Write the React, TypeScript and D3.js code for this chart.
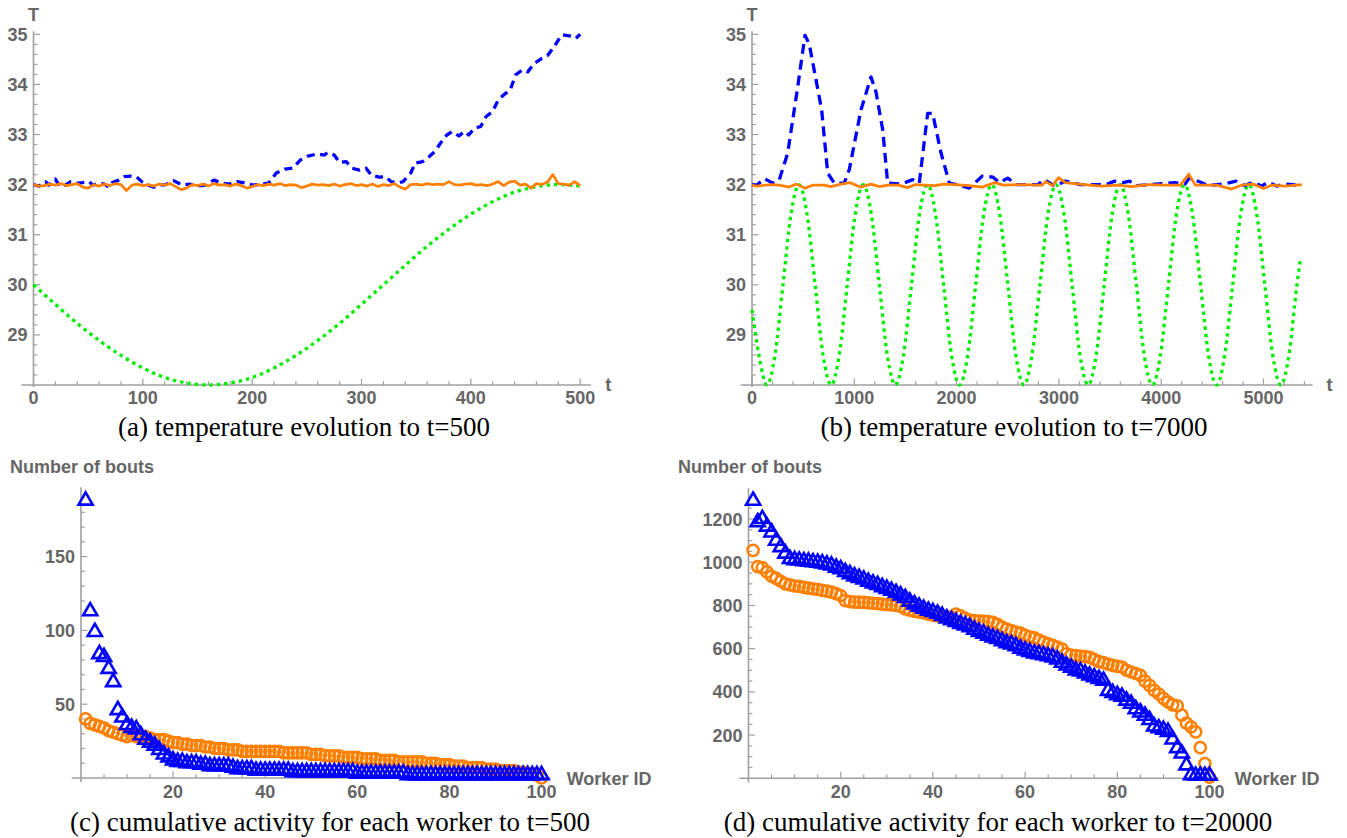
import React from 'react';
import * as d3 from 'd3';

const W = 1347;
const H = 838;

// ---------- Panel (a): temperature evolution to t=500 ----------
const aBlueT = [0,5,11,14,20,24,29,34,40,45,51,54,60,65,69,72,78,83,89,94,99,105,110,116,121,128,136,143,150,157,165,172,179,186,194,201,208,215,222,230,237,244,251,259,266,269,275,280,286,291,298,304,309,316,322,327,333,338,345,349,356,362,367,372,378,383,389,394,398,403,409,414,420,425,430,436,441,447,452,458,465,470,476,483,490,496,500];
const aBlueV = [32.0,31.97,32.06,31.99,32.11,31.96,31.99,32.06,32.03,32.04,32.06,31.99,32.03,32.01,31.95,32.04,32.09,32.16,32.17,32.16,32.06,31.99,31.95,31.99,32.0,32.08,31.99,32.01,31.97,31.99,32.09,32.03,32.01,32.06,32.03,31.99,32.01,32.03,32.23,32.31,32.33,32.49,32.57,32.61,32.59,32.64,32.59,32.44,32.46,32.33,32.29,32.33,32.19,32.15,32.16,32.06,32.03,32.06,32.23,32.43,32.46,32.56,32.66,32.82,32.99,33.06,32.97,33.06,32.99,33.12,33.16,33.36,33.46,33.69,33.79,33.89,34.19,34.29,34.25,34.42,34.52,34.57,34.75,34.99,34.97,34.92,35.0];
const aOrangeT = d3.range(0, 501, 5);
const aOrangeV = [
  32.00,31.97,31.98,32.01,31.99,32.02,31.98,32.00,32.02,31.95,
  31.93,32.00,31.97,32.01,31.98,32.02,32.00,31.88,31.99,32.01,
  31.98,32.00,31.97,32.01,31.99,32.02,31.96,31.90,31.93,32.00,
  31.98,32.01,31.97,32.02,31.99,32.00,31.97,32.01,31.98,31.93,
  31.96,32.00,31.98,32.01,31.99,32.02,31.98,32.00,31.99,31.94,
  31.97,32.01,31.99,32.00,31.98,32.01,31.97,32.00,32.02,31.98,
  32.00,31.97,32.01,31.96,32.00,31.98,32.02,31.95,31.91,32.00,
  32.01,31.99,32.02,32.00,32.01,32.00,32.06,32.00,31.99,32.01,
  32.02,31.99,32.00,31.98,32.01,32.06,31.98,32.05,32.07,31.99,
  32.01,31.93,32.02,32.00,32.05,32.20,32.02,32.01,31.99,32.06,
  31.98];
const aGreenT = d3.range(0, 501, 20);
const aGreenV = [30.0,29.61,29.23,28.89,28.59,28.34,28.15,28.04,28.0,28.04,28.15,28.34,28.59,28.89,29.23,29.61,30.0,30.39,30.77,31.11,31.41,31.66,31.85,31.96,32.0,31.97];

// ---------- Panel (b): temperature evolution to t=7000 ----------
const bBlueT = [0,49,120,202,267,349,447,518,560,626,681,740,804,902,951,1065,1163,1212,1278,1326,1457,1571,1635,1717,1766,1848,1929,2000,2125,2250,2354,2417,2500,2584,2793,2856,2959,3064,3210,3458,3545,3627,3690,3752,4004,4128,4233,4275,4356,4463,4629,4733,4816,4900,4981,5046,5128,5213,5293,5371];
const bBlueV = [32.0,31.99,32.12,32.03,32.1,32.63,33.95,34.98,34.8,34.09,33.49,32.23,32.03,32.03,32.3,33.49,34.15,33.85,33.09,32.03,32.01,32.1,32.03,33.42,33.42,32.63,32.03,32.0,31.93,32.17,32.15,32.04,32.13,32.0,32.0,32.1,31.97,32.07,32.0,32.0,32.07,32.04,32.07,31.98,32.02,32.04,32.01,32.13,32.07,31.98,32.02,32.07,31.98,32.05,31.97,32.05,31.97,32.01,32.0,31.96];
const bOrangeT = [0,38,183,267,363,434,517,600,705,767,872,955,1059,1163,1247,1330,1434,1518,1601,1685,1789,1872,1977,2123,2248,2373,2456,2623,2831,2873,2936,2998,3061,3248,3415,3582,3707,3874,4041,4187,4270,4333,4541,4687,4791,4896,5000,5083,5208,5375];
const bOrangeV = [31.99,31.97,32.0,31.99,31.95,32.01,31.93,31.99,31.99,31.96,32.01,32.04,31.95,32.01,31.96,31.99,31.99,31.94,32.0,31.99,31.98,32.01,32.0,31.98,31.95,32.04,31.99,32.0,31.99,32.06,31.98,32.14,32.04,32.0,31.97,31.99,31.96,32.0,31.99,31.99,32.21,31.99,31.99,31.91,31.99,32.01,31.92,31.99,31.97,32.0];
const bGreenT = [0,68,146,224,303,381,460,538,617,695,774,852,931,1009,1088,1166,1245,1323,1402,1480,1559,1637,1716,1794,1873,1951,2030,2108,2187,2265,2344,2422,2501,2579,2658,2736,2815,2893,2972,3050,3129,3207,3286,3364,3443,3521,3600,3678,3757,3835,3914,3992,4071,4149,4228,4306,4385,4463,4542,4620,4699,4777,4856,4934,5013,5091,5170,5248,5327,5360];
const bGreenV = [
  29.5,28.59,28,28.59,30,31.41,32,31.41,30,28.59,
  28,28.59,30,31.41,32,31.41,30,28.59,28,28.59,
  30,31.41,32,31.41,30,28.59,28,28.59,30,31.41,
  32,31.41,30,28.59,28,28.59,30,31.41,32,31.41,
  30,28.59,28,28.59,30,31.41,32,31.41,30,28.59,
  28,28.59,30,31.41,32,31.41,30,28.59,28,28.59,
  30,31.41,32,31.41,30,28.59,28,28.59,30,30.5];

// ---------- Panel (c): cumulative activity to t=500 ----------
const workerIds = d3.range(1, 101);
const cBlue = [
  188,113,99,84,82,74,65,46,41,36,
  34,33,29,26,24,22,19,16,14,12,
  11,11,10,10,10,9,9,8,8,8,
  8,8,7,6,6,6,6,5,5,5,
  5,5,5,5,5,4,4,4,4,4,
  4,4,4,4,4,4,4,4,4,3,
  3,3,3,3,3,3,3,3,3,3,
  2,2,2,2,2,2,2,2,2,2,
  2,2,2,2,2,2,2,2,2,2,
  2,2,2,2,2,2,2,2,2,2];
const cOrange = [
  40,37,36,35,34,32,31,30,29,28,
  29,28,28,28,27,26,26,26,25,24,
  24,23,23,22,22,22,21,21,20,20,
  20,19,19,19,18,18,18,18,18,18,
  18,18,18,17,17,17,17,17,17,16,
  16,16,15,15,15,15,14,14,14,14,
  13,13,13,13,12,12,12,12,11,11,
  11,11,11,11,10,10,10,9,9,9,
  8,8,8,7,7,7,7,6,6,6,
  5,5,5,5,4,4,3,3,2,0];

// ---------- Panel (d): cumulative activity to t=20000 ----------
const dBlue = [
  1285,1185,1200,1165,1138,1100,1070,1040,1015,1010,
  1008,1005,1003,1000,998,995,990,985,975,968,
  955,945,935,928,920,910,902,895,885,877,
  868,858,847,835,818,805,795,785,776,770,
  762,752,740,732,724,715,708,700,688,678,
  670,660,652,645,635,625,620,612,600,592,
  585,578,575,570,565,560,550,535,522,512,
  500,495,485,476,468,460,452,405,395,385,
  378,360,345,320,305,290,270,240,232,225,
  215,180,140,115,60,15,12,12,12,12];
const dOrange = [
  1055,980,975,955,935,925,912,900,895,890,
  888,884,880,877,874,870,866,862,855,846,
  822,818,815,815,814,812,810,808,806,804,
  802,800,795,784,778,772,769,765,760,755,
  752,750,748,746,760,752,740,732,730,728,
  727,725,722,712,700,690,684,677,672,662,
  655,650,640,630,622,615,607,598,576,570,
  568,565,563,560,550,540,535,528,523,518,
  515,500,492,485,476,450,430,407,390,370,
  353,340,335,292,255,238,215,142,68,5];

// ---------- Ticks and labels ----------
const tempMajor = [29, 30, 31, 32, 33, 34, 35];
const aXMajor = [0, 100, 200, 300, 400, 500];
const bXMajor = [0, 1000, 2000, 3000, 4000, 5000];
const workerMajor = [20, 40, 60, 80, 100];
const cYMajor = [50, 100, 150];
const dYMajor = [200, 400, 600, 800, 1000, 1200];
const captions = [
  '(a) temperature evolution to t=500',
  '(b) temperature evolution to t=7000',
  '(c) cumulative activity for each worker to t=500',
  '(d) cumulative activity for each worker to t=20000',
];

const BLUE = '#0000ff';
const ORANGE = '#ff8000';
const GREEN = '#00ee00';
const AXIS = '#a0a0a0';
const LABEL = '#666666';
const SANS = "'Liberation Sans', Arial, Helvetica, sans-serif";
const SERIF = "'Liberation Serif', 'Times New Roman', serif";
const FS = 18;

const minorOf = (from: number, to: number, step: number, major: number[]) =>
  d3.range(from, to + step / 2, step).filter(v => !major.some(m => Math.abs(m - v) < step / 10));

type AxesProps = {
  sx: d3.ScaleLinear<number, number>;
  sy: d3.ScaleLinear<number, number>;
  ox: number; oy: number;
  xFrom: number; xTo: number; yTo: number; yBelow: number;
  xMaj: number[]; xMin: number[]; yMaj: number[]; yMin: number[];
  xLabDy: number;
};

function Axes(p: AxesProps) {
  const X0 = p.sx(p.ox);
  const Y0 = p.sy(p.oy);
  return (
    <g>
      <line x1={p.sx(p.xFrom)} x2={p.sx(p.xTo)} y1={Y0} y2={Y0} stroke={AXIS} strokeWidth={1.6} />
      <line x1={X0} x2={X0} y1={Y0 + p.yBelow} y2={p.sy(p.yTo)} stroke={AXIS} strokeWidth={1.6} />
      {p.xMin.map(v => (
        <line key={'xm' + v} x1={p.sx(v)} x2={p.sx(v)} y1={Y0} y2={Y0 - 3.8} stroke={AXIS} strokeWidth={1.2} />
      ))}
      {p.xMaj.map(v => (
        <line key={'xM' + v} x1={p.sx(v)} x2={p.sx(v)} y1={Y0} y2={Y0 - 6.5} stroke={AXIS} strokeWidth={1.2} />
      ))}
      {p.yMin.map(v => (
        <line key={'ym' + v} x1={X0} x2={X0 + 3.8} y1={p.sy(v)} y2={p.sy(v)} stroke={AXIS} strokeWidth={1.2} />
      ))}
      {p.yMaj.map(v => (
        <line key={'yM' + v} x1={X0} x2={X0 + 6.5} y1={p.sy(v)} y2={p.sy(v)} stroke={AXIS} strokeWidth={1.2} />
      ))}
      {p.xMaj.map(v => (
        <text key={'xl' + v} x={p.sx(v)} y={Y0 + p.xLabDy} textAnchor="middle" fontFamily={SANS}
          fontWeight="bold" fontSize={FS} fill={LABEL}>{v}</text>
      ))}
      {p.yMaj.map(v => (
        <text key={'yl' + v} x={X0 - 6} y={p.sy(v) + 6.5} textAnchor="end" fontFamily={SANS}
          fontWeight="bold" fontSize={FS} fill={LABEL}>{v}</text>
      ))}
    </g>
  );
}

function linePath(ts: number[], vs: number[], sx: any, sy: any, curve: any) {
  const n = Math.min(ts.length, vs.length);
  const pts: [number, number][] = d3.range(n).map(i => [ts[i], vs[i]]);
  return d3.line<[number, number]>().x(d => sx(d[0])).y(d => sy(d[1])).curve(curve)(pts) || '';
}

function TempPanel(props: {
  sx: d3.ScaleLinear<number, number>; sy: d3.ScaleLinear<number, number>;
  xFrom: number; xTo: number; xMaj: number[]; xMin: number[]; dash: string;
  blueT: number[]; blueV: number[]; orangeT: number[]; orangeV: number[]; greenT: number[]; greenV: number[];
}) {
  const { sx, sy } = props;
  const yMin = minorOf(28.2, 34.8, 0.2, tempMajor);
  return (
    <g>
      <Axes sx={sx} sy={sy} ox={0} oy={28} xFrom={props.xFrom} xTo={props.xTo} yTo={35.06} yBelow={2}
        xMaj={props.xMaj} xMin={props.xMin} yMaj={tempMajor} yMin={yMin} xLabDy={18.5} />
      <path d={linePath(props.greenT, props.greenV, sx, sy, d3.curveMonotoneX)} fill="none" stroke={GREEN}
        strokeWidth={3.3} strokeDasharray="3.4,4" />
      <path d={linePath(props.blueT, props.blueV, sx, sy, d3.curveLinear)} fill="none" stroke={BLUE}
        strokeWidth={3.3} strokeDasharray={props.dash} strokeLinejoin="round" />
      <path d={linePath(props.orangeT, props.orangeV, sx, sy, d3.curveLinear)} fill="none" stroke={ORANGE}
        strokeWidth={2.7} strokeLinejoin="round" />
      <text x={sx(0)} y={21} textAnchor="middle" fontFamily={SANS} fontWeight="bold" fontSize={FS} fill={LABEL}>T</text>
      <text x={sx(props.xTo) + 14} y={sy(28) + 6} textAnchor="start" fontFamily={SANS} fontWeight="bold"
        fontSize={FS} fill={LABEL}>t</text>
    </g>
  );
}

function BoutPanel(props: {
  sx: d3.ScaleLinear<number, number>; sy: d3.ScaleLinear<number, number>;
  yTo: number; yMaj: number[]; yMin: number[]; blue: number[]; orange: number[]; titleX: number;
}) {
  const { sx, sy } = props;
  const tri = d3.symbol().type(d3.symbolTriangle).size(86)() || '';
  const xMin = minorOf(5, 100, 5, workerMajor);
  return (
    <g>
      <Axes sx={sx} sy={sy} ox={0} oy={0} xFrom={-2} xTo={102} yTo={props.yTo} yBelow={4}
        xMaj={workerMajor} xMin={xMin} yMaj={props.yMaj} yMin={props.yMin} xLabDy={20} />
      {props.orange.map((v, i) => (
        <circle key={'o' + i} cx={sx(workerIds[i])} cy={sy(v)} r={5.6} fill="none" stroke={ORANGE} strokeWidth={2.5} />
      ))}
      {props.blue.map((v, i) => (
        <path key={'b' + i} d={tri} transform={`translate(${sx(workerIds[i])},${sy(v)})`} fill="none"
          stroke={BLUE} strokeWidth={2.6} strokeLinejoin="miter" />
      ))}
      <text x={props.titleX} y={473} fontFamily={SANS} fontWeight="bold" fontSize={FS} fill={LABEL}>Number of bouts</text>
      <text x={sx(102) + 16} y={sy(0) + 6.5} fontFamily={SANS} fontWeight="bold" fontSize={FS} fill={LABEL}>Worker ID</text>
    </g>
  );
}

export default function App() {
  const yTempA = d3.scaleLinear().domain([28, 35]).range([385, 34.3]);
  const xA = d3.scaleLinear().domain([0, 500]).range([33.5, 580.2]);
  const xB = d3.scaleLinear().domain([0, 5000]).range([752, 1263.5]);
  const xC = d3.scaleLinear().domain([0, 100]).range([81, 541.5]);
  const yC = d3.scaleLinear().domain([0, 50]).range([778, 704.2]);
  const xD = d3.scaleLinear().domain([0, 100]).range([748.5, 1209.5]);
  const yD = d3.scaleLinear().domain([0, 1200]).range([778.3, 519]);

  const captionPos: [number, number][] = [[304, 436], [1014, 436], [330, 831], [998, 831]];

  return (
    <svg width={W} height={H} viewBox={`0 0 ${W} ${H}`}
      style={{ position: 'absolute', left: 0, top: 0, background: '#ffffff' }}>
      <rect x={0} y={0} width={W} height={H} fill="#ffffff" />
      <TempPanel sx={xA} sy={yTempA} xFrom={-11} xTo={510} xMaj={aXMajor} xMin={minorOf(20, 500, 20, aXMajor)}
        dash="8,5.5"
        blueT={aBlueT} blueV={aBlueV} orangeT={aOrangeT} orangeV={aOrangeV} greenT={aGreenT} greenV={aGreenV} />
      <TempPanel sx={xB} sy={yTempA} xFrom={-110} xTo={5480} xMaj={bXMajor} xMin={minorOf(200, 5400, 200, bXMajor)}
        dash="10,6"
        blueT={bBlueT} blueV={bBlueV} orangeT={bOrangeT} orangeV={bOrangeV} greenT={bGreenT} greenV={bGreenV} />
      <BoutPanel sx={xC} sy={yC} yTo={197} yMaj={cYMajor} yMin={minorOf(10, 190, 10, cYMajor)}
        blue={cBlue} orange={cOrange} titleX={10} />
      <BoutPanel sx={xD} sy={yD} yTo={1342} yMaj={dYMajor} yMin={minorOf(50, 1300, 50, dYMajor)}
        blue={dBlue} orange={dOrange} titleX={678} />
      {captions.map((c, i) => (
        <text key={c} x={captionPos[i][0]} y={captionPos[i][1]} textAnchor="middle" fontFamily={SERIF}
          fontSize={27} fill="#000">{c}</text>
      ))}
    </svg>
  );
}
